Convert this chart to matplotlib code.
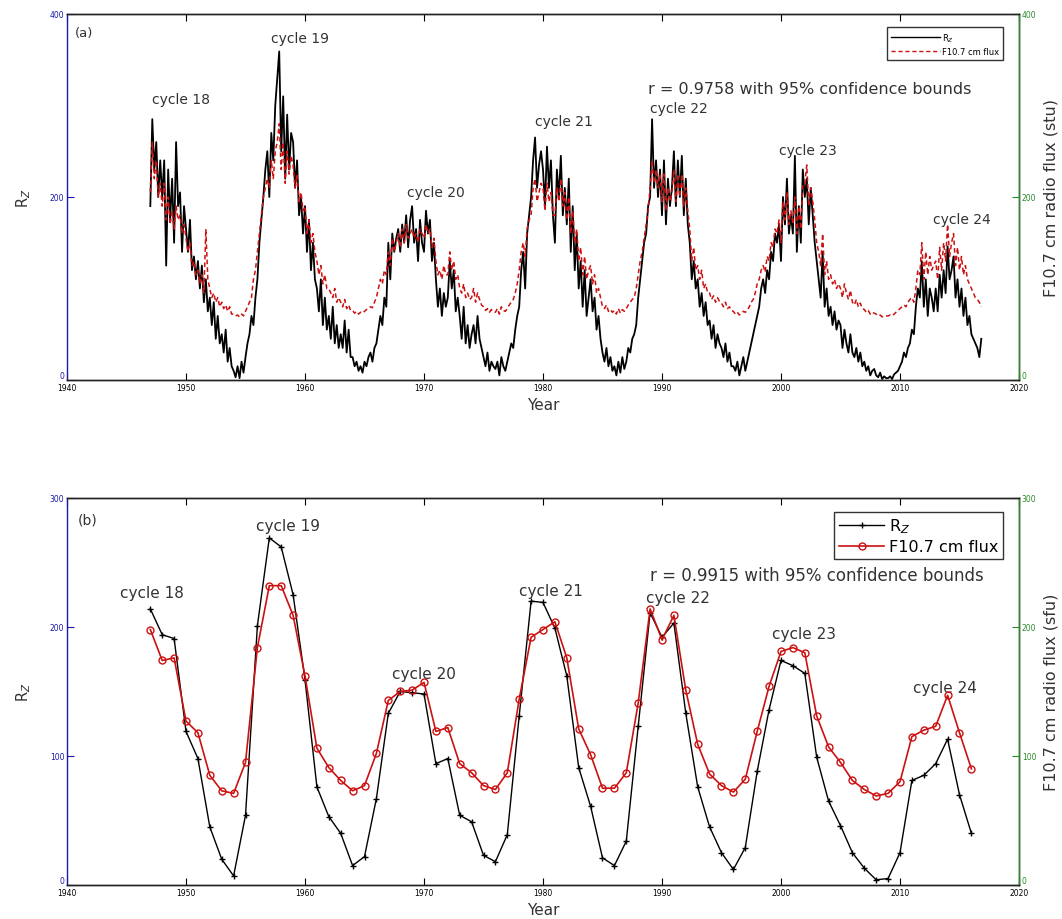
import numpy as np
import matplotlib
matplotlib.use("Agg")
import matplotlib.pyplot as plt
from matplotlib.lines import Line2D

# ---------------- data ----------------
# Panel (a): bimonthly samples (6 per year), 1947 .. 2016
start_year_a = 1947
samples_per_year = 6
rz_a = [
    190, 285, 230, 260, 200, 240,   # 1947
    200, 240, 125, 230, 175, 220,   # 1948
    150, 260, 190, 205, 140, 190,   # 1949
    165, 140, 175, 120, 135, 110,   # 1950
    130, 100, 125, 85, 110, 75,     # 1951
    90, 60, 85, 45, 70, 40,         # 1952
    50, 30, 55, 20, 35, 15,         # 1953
    10, 3, 15, 2, 20, 8,            # 1954
    25, 40, 50, 70, 60, 90,         # 1955
    110, 150, 175, 200, 230, 250,   # 1956
    200, 270, 240, 300, 330, 359,   # 1957
    250, 310, 220, 290, 230, 270,   # 1958
    260, 210, 240, 180, 200, 160,   # 1959
    190, 140, 175, 120, 150, 110,   # 1960
    100, 75, 110, 60, 90, 55,       # 1961
    70, 45, 80, 40, 60, 35,         # 1962
    50, 35, 65, 30, 55, 25,         # 1963
    25, 15, 20, 10, 15, 8,          # 1964
    20, 15, 25, 30, 20, 35,         # 1965
    40, 55, 70, 60, 90, 80,         # 1966
    150, 110, 160, 140, 155, 165,   # 1967
    140, 170, 150, 180, 145, 175,   # 1968
    190, 150, 165, 130, 175, 150,   # 1969
    140, 185, 160, 175, 130, 150,   # 1970
    110, 80, 100, 70, 95, 80,       # 1971
    90, 130, 100, 120, 75, 90,      # 1972
    70, 45, 80, 40, 60, 35,         # 1973
    50, 60, 40, 70, 45, 35,         # 1974
    25, 15, 30, 10, 20, 15,         # 1975
    12, 20, 5, 25, 15, 10,          # 1976
    20, 30, 40, 35, 55, 70,         # 1977
    80, 120, 140, 100, 160, 180,    # 1978
    200, 240, 265, 210, 235, 250,   # 1979
    230, 190, 255, 210, 240, 180,   # 1980
    150, 230, 200, 245, 180, 210,   # 1981
    170, 220, 140, 190, 120, 160,   # 1982
    100, 130, 80, 120, 70, 90,      # 1983
    110, 75, 90, 55, 70, 45,        # 1984
    30, 20, 35, 15, 25, 10,         # 1985
    15, 5, 20, 8, 25, 12,           # 1986
    20, 35, 30, 45, 50, 60,         # 1987
    90, 110, 130, 150, 160, 190,    # 1988
    200, 285, 210, 240, 200, 230,   # 1989
    180, 240, 170, 220, 190, 210,   # 1990
    250, 190, 240, 200, 245, 180,   # 1991
    220, 170, 150, 110, 130, 100,   # 1992
    110, 80, 95, 70, 85, 60,        # 1993
    65, 45, 60, 35, 50, 40,         # 1994
    35, 25, 40, 20, 30, 15,         # 1995
    15, 10, 20, 5, 15, 25,          # 1996
    10, 20, 30, 40, 50, 60,         # 1997
    70, 80, 100, 110, 95, 120,      # 1998
    110, 140, 130, 160, 150, 170,   # 1999
    130, 200, 170, 220, 160, 180,   # 2000
    160, 245, 140, 190, 150, 230,   # 2001
    200, 220, 170, 210, 180, 150,   # 2002
    130, 110, 90, 140, 80, 100,     # 2003
    70, 80, 60, 75, 55, 65,         # 2004
    60, 35, 55, 40, 30, 50,         # 2005
    30, 25, 35, 20, 30, 15,         # 2006
    20, 10, 15, 5, 10, 12,          # 2007
    5, 3, 8, 1, 4, 2,               # 2008
    2, 4, 1, 6, 8, 10,              # 2009
    15, 20, 30, 25, 35, 40,         # 2010
    55, 50, 80, 100, 90, 130,       # 2011
    80, 110, 70, 100, 90, 75,       # 2012
    100, 75, 115, 90, 120, 95,      # 2013
    146, 110, 120, 135, 90, 110,    # 2014
    80, 100, 70, 90, 60, 70,        # 2015
    50, 45, 40, 35, 25, 45,         # 2016
]
f107_a = [
    205, 260, 220, 240, 200, 215,   # 1947
    190, 215, 175, 200, 170, 185,   # 1948
    165, 190, 175, 180, 160, 170,   # 1949
    155, 140, 150, 125, 130, 115,   # 1950
    120, 105, 115, 95, 165, 110,    # 1951
    100, 90, 95, 85, 90, 80,        # 1952
    85, 78, 82, 75, 80, 72,         # 1953
    72, 70, 71, 69, 72, 70,         # 1954
    75, 80, 85, 90, 110, 120,       # 1955
    140, 160, 180, 200, 210, 220,   # 1956
    210, 240, 220, 250, 260, 280,   # 1957
    230, 260, 215, 250, 225, 245,   # 1958
    235, 210, 225, 195, 205, 185,   # 1959
    190, 160, 175, 150, 160, 140,   # 1960
    130, 115, 125, 105, 115, 100,   # 1961
    100, 95, 90, 100, 85, 90,       # 1962
    85, 80, 88, 78, 82, 76,         # 1963
    76, 73, 75, 72, 74, 73,         # 1964
    75, 77, 78, 80, 79, 85,         # 1965
    90, 100, 110, 105, 120, 115,    # 1966
    140, 125, 155, 140, 150, 160,   # 1967
    145, 165, 150, 170, 155, 160,   # 1968
    165, 155, 160, 150, 165, 160,   # 1969
    155, 170, 160, 165, 145, 155,   # 1970
    130, 115, 120, 110, 125, 115,   # 1971
    115, 140, 120, 130, 110, 115,   # 1972
    100, 95, 105, 90, 95, 88,       # 1973
    90, 100, 85, 95, 88, 82,        # 1974
    80, 76, 78, 74, 77, 75,         # 1975
    74, 78, 72, 80, 76, 75,         # 1976
    78, 82, 85, 88, 95, 105,        # 1977
    120, 140, 150, 135, 165, 175,   # 1978
    180, 210, 220, 195, 205, 215,   # 1979
    210, 185, 215, 195, 205, 180,   # 1980
    180, 210, 195, 220, 190, 205,   # 1981
    175, 200, 160, 185, 150, 165,   # 1982
    130, 145, 115, 135, 110, 120,   # 1983
    125, 105, 115, 95, 100, 90,     # 1984
    80, 78, 82, 75, 77, 74,         # 1985
    76, 72, 78, 73, 77, 75,         # 1986
    78, 82, 85, 88, 90, 100,        # 1987
    115, 130, 140, 155, 170, 185,   # 1988
    210, 240, 215, 230, 210, 225,   # 1989
    195, 225, 185, 210, 195, 205,   # 1990
    230, 195, 225, 200, 225, 190,   # 1991
    210, 185, 165, 130, 145, 120,   # 1992
    125, 110, 120, 100, 105, 95,    # 1993
    95, 88, 92, 85, 90, 86,         # 1994
    84, 80, 85, 78, 80, 76,         # 1995
    75, 72, 74, 71, 73, 75,         # 1996
    74, 76, 80, 85, 88, 95,         # 1997
    105, 110, 120, 125, 118, 135,   # 1998
    130, 150, 145, 165, 160, 175,   # 1999
    150, 195, 175, 205, 170, 185,   # 2000
    170, 200, 160, 190, 165, 215,   # 2001
    215, 235, 190, 210, 195, 175,   # 2002
    150, 140, 125, 160, 115, 130,   # 2003
    110, 115, 105, 110, 100, 105,   # 2004
    100, 90, 105, 95, 88, 98,       # 2005
    85, 82, 88, 80, 84, 78,         # 2006
    77, 74, 76, 72, 74, 73,         # 2007
    72, 70, 71, 69, 70, 70,         # 2008
    70, 71, 70, 72, 74, 76,         # 2009
    78, 80, 82, 80, 85, 88,         # 2010
    90, 85, 100, 120, 115, 150,     # 2011
    110, 140, 115, 135, 120, 125,   # 2012
    130, 110, 145, 120, 150, 130,   # 2013
    170, 135, 150, 160, 125, 145,   # 2014
    120, 135, 115, 125, 110, 105,   # 2015
    100, 95, 90, 88, 85, 80,        # 2016
]

# Panel (b): yearly means
years_b = list(range(1947, 2017))
rz_b = [214, 194, 191, 119, 98, 45, 20, 7, 54, 201,
        269, 262, 225, 159, 76, 53, 40, 15, 22, 67,
        133, 150, 149, 148, 94, 98, 54, 49, 23, 18,
        39, 131, 220, 219, 199, 162, 91, 61, 21, 15,
        34, 123, 211, 192, 203, 133, 76, 45, 25, 12,
        29, 88, 136, 174, 170, 164, 99, 65, 46, 25,
        13, 4, 5, 25, 81, 85, 94, 113, 70, 40]
f107_b = [198, 174, 176, 127, 118, 85, 73, 71, 95, 184,
          232, 232, 209, 162, 106, 91, 81, 73, 77, 102,
          143, 150, 151, 157, 119, 122, 94, 87, 77, 74,
          87, 144, 192, 198, 204, 176, 121, 101, 75, 75,
          87, 141, 214, 190, 209, 151, 109, 86, 77, 72,
          82, 119, 154, 181, 184, 180, 131, 107, 95, 81,
          74, 69, 71, 80, 115, 120, 123, 147, 118, 90]

cycle_labels = ["cycle 18", "cycle 19", "cycle 20", "cycle 21",
                "cycle 22", "cycle 23", "cycle 24"]
cycle_pos_a = [(1949.6, 307), (1959.6, 374), (1971.0, 205), (1981.8, 283),
               (1991.4, 297), (2002.3, 251), (2015.2, 176)]
cycle_pos_b = [(1947.1, 227), (1958.6, 279), (1970.0, 164), (1980.7, 228),
               (1991.3, 223), (2001.9, 195), (2013.8, 153)]
r_text_a = "r = 0.9758 with 95% confidence bounds"
r_text_b = "r = 0.9915 with 95% confidence bounds"

# --------------- figure ---------------
plt.rcParams['font.family'] = ['DejaVu Sans']
fig = plt.figure(figsize=(10.62, 9.2), dpi=100)

BLUE = '#1a1aa8'
GREEN = '#2a8a2a'
RED = '#cc1111'
TXT = '#333333'

def style_axes(ax, ax2, ymax, yticks, right_label):
    ax.set_xlim(1940, 2020)
    ax.set_ylim(0, ymax)
    ax2.set_ylim(0, ymax)
    ax.set_xticks([1940, 1950, 1960, 1970, 1980, 1990, 2000, 2010, 2020])
    ax.set_yticks(yticks)
    ax2.set_yticks(yticks)
    ax.tick_params(axis='x', direction='in', top=True, length=5, labelsize=5.5, pad=2)
    ax.tick_params(axis='y', direction='in', colors=BLUE, length=5, labelsize=5.5, pad=2)
    ax2.tick_params(axis='y', direction='in', colors=GREEN, length=5, labelsize=5.5, pad=2)
    # lift the "0" labels a little so they sit above the year labels
    ax.get_yticklabels()[0].set_verticalalignment('bottom')
    ax2.get_yticklabels()[0].set_verticalalignment('bottom')
    ax.spines['left'].set_color(BLUE)
    ax2.spines['left'].set_visible(False)
    ax2.spines['right'].set_color(GREEN)
    for sp in ['top', 'bottom']:
        ax.spines[sp].set_color('#222222')
        ax2.spines[sp].set_color('#222222')
    for a in (ax, ax2):
        for s in a.spines.values():
            s.set_linewidth(1.0)
    ax.set_ylabel('R$_Z$', fontsize=10.5, labelpad=12, color=TXT)
    ax2.set_ylabel(right_label, fontsize=11.5, labelpad=5, color=TXT)
    ax.set_xlabel('Year', fontsize=11, labelpad=4, color=TXT)

# ---- panel (a) ----
ax = fig.add_axes([0.0631, 0.5859, 0.8964, 0.3978])
ax2 = ax.twinx()
x_a = start_year_a + np.arange(len(rz_a)) / samples_per_year
ax.plot(x_a, rz_a, color='black', lw=1.3, zorder=2)
ax2.plot(x_a, f107_a, color=RED, lw=1.1, ls=(0, (3, 2)), zorder=3)
style_axes(ax, ax2, 400, [0, 200, 400], 'F10.7 cm radio flux (stu)')
ax.text(1940.7, 380, '(a)', fontsize=9.5, color=TXT, va='center')
for lab, (xx, yy) in zip(cycle_labels, cycle_pos_a):
    ax.text(xx, yy, lab, fontsize=10, ha='center', va='center', color=TXT)
ax.text(1988.8, 319, r_text_a, fontsize=11.5, ha='left', va='center', color=TXT)
h_a = [Line2D([], [], color='black', lw=1.0),
       Line2D([], [], color=RED, lw=1.0, ls=(0, (3, 2)))]
leg = ax2.legend(h_a, ['R$_Z$', 'F10.7 cm flux'], loc='upper right',
                 bbox_to_anchor=(0.988, 0.976), fontsize=6, frameon=True,
                 fancybox=False, edgecolor='black', handlelength=5.8,
                 borderpad=0.5, labelspacing=0.4, handletextpad=0.3)
leg.get_frame().set_linewidth(1.0)

# ---- panel (b) ----
bx = fig.add_axes([0.0631, 0.0370, 0.8964, 0.4207])
bx2 = bx.twinx()
bx.plot(years_b, rz_b, color='black', lw=1.0, marker='+', ms=5, mew=1.0, zorder=2)
bx2.plot(years_b, f107_b, color=RED, lw=1.2, marker='o', ms=5, mfc='none',
         mec=RED, mew=1.0, zorder=3)
style_axes(bx, bx2, 300, [0, 100, 200, 300], 'F10.7 cm radio flux (sfu)')
bx.text(1940.9, 283, '(b)', fontsize=10, color=TXT, va='center')
for lab, (xx, yy) in zip(cycle_labels, cycle_pos_b):
    bx.text(xx, yy, lab, fontsize=11, ha='center', va='center', color=TXT)
bx.text(1989.0, 240, r_text_b, fontsize=12, ha='left', va='center', color=TXT)
h_b = [Line2D([], [], color='black', lw=1.0, marker='+', ms=5),
       Line2D([], [], color=RED, lw=1.2, marker='o', ms=5, mfc='none')]
leg = bx2.legend(h_b, ['R$_Z$', 'F10.7 cm flux'], loc='upper right',
                 bbox_to_anchor=(0.9915, 0.985), fontsize=11.5, frameon=True,
                 fancybox=False, edgecolor='black', handlelength=2.8,
                 borderpad=0.3, labelspacing=0.25, handletextpad=0.3)
leg.get_frame().set_linewidth(1.0)

fig.savefig('out.png', dpi=100)
